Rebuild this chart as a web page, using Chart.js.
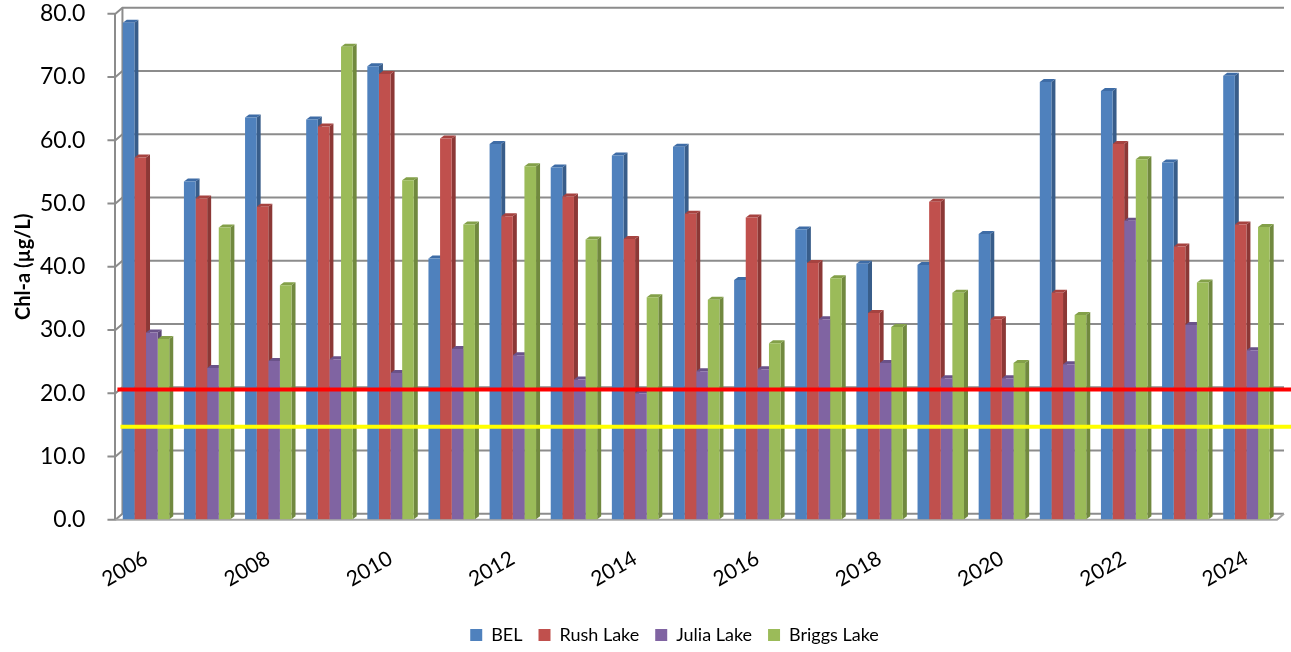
<!DOCTYPE html>
<html>
<head>
<meta charset="utf-8">
<script src="https://cdn.jsdelivr.net/npm/chart.js@4"></script>
<style>
  html, body { margin: 0; padding: 0; background: #fff; }
  #wrap { width: 1291px; height: 652px; }
</style>
</head>
<body>
<div id="wrap"><canvas id="chl"></canvas></div>
<script>
// Datos
const years = ['2006', '2007', '2008', '2009', '2010', '2011', '2012', '2013', '2014', '2015',
               '2016', '2017', '2018', '2019', '2020', '2021', '2022', '2023', '2024'];
const bel    = [78.6, 53.5, 63.6, 63.3, 71.7, 41.3, 59.4, 55.7, 57.6, 59.0, 37.9, 45.9, 40.5, 40.3, 45.2, 69.2, 67.8, 56.5, 70.2];
const rush   = [57.3, 50.8, 49.5, 62.2, 70.5, 60.3, 48.0, 51.1, 44.4, 48.4, 47.8, 40.6, 32.7, 50.3, 31.7, 35.9, 59.4, 43.2, 46.7];
const julia  = [29.6, 24.0, 25.1, 25.4, 23.2, 27.0, 26.0, 22.2, 20.0, 23.5, 23.8, 31.7, 24.8, 22.4, 22.4, 24.6, 47.3, 30.8, 26.8];
const briggs = [28.6, 46.2, 37.1, 74.8, 53.7, 46.7, 55.9, 44.3, 35.2, 34.8, 27.9, 38.2, 30.5, 35.9, 24.8, 32.4, 57.0, 37.5, 46.3];
const yTicks = [0, 10, 20, 30, 40, 50, 60, 70, 80];
// líneas de referencia (roja y amarilla)
const redLine = 20.6;
const yellowLine = 14.7;

const seriesNames = ['BEL', 'Rush Lake', 'Julia Lake', 'Briggs Lake'];
const frontColors = ['#4F81BD', '#C0504D', '#8064A2', '#9BBB59'];
const sideColors  = ['#385D8A', '#8C3836', '#5C4776', '#71893F'];
const topColors   = ['#3E6CA6', '#A64340', '#6A5289', '#83A049'];

const DEPTH_X = 4, DEPTH_Y = 3;     // cara lateral de las barras
const WALL_X = 7, WALL_Y = 6;       // pared del fondo

// Pared del fondo, rejilla y caras 3D de las barras
const fondo3d = {
    id: 'fondo3d',
    afterLayout(chart) {
        // la leyenda del original está algo desplazada a la derecha
        chart.legend.left += 60;
    },
    beforeDatasetsDraw(chart) {
        const ctx = chart.ctx;
        const area = chart.chartArea;
        const y = chart.scales.y;
        ctx.save();
        ctx.strokeStyle = '#8C8C8C';
        ctx.lineWidth = 2;
        yTicks.forEach(v => {
            const py = y.getPixelForValue(v);
            ctx.beginPath();
            ctx.moveTo(area.left - 8, py);
            ctx.lineTo(area.left, py);
            ctx.lineTo(area.left + WALL_X, py - WALL_Y);
            ctx.lineTo(area.right + WALL_X, py - WALL_Y);
            ctx.stroke();
        });
        // borde izquierdo de la pared
        ctx.beginPath();
        ctx.moveTo(area.left + WALL_X, area.top - WALL_Y);
        ctx.lineTo(area.left + WALL_X, area.bottom - WALL_Y);
        ctx.stroke();
        // suelo
        ctx.strokeStyle = '#A6A6A6';
        ctx.beginPath();
        ctx.moveTo(area.left, area.bottom);
        ctx.lineTo(area.right, area.bottom);
        ctx.lineTo(area.right + WALL_X, area.bottom - WALL_Y);
        ctx.stroke();

        // caras laterales y superiores (antes de las frontales)
        chart.data.datasets.forEach((ds, i) => {
            const meta = chart.getDatasetMeta(i);
            meta.data.forEach(bar => {
                const p = bar.getProps(['x', 'y', 'base', 'width'], true);
                const l = p.x - p.width / 2, r = p.x + p.width / 2;
                ctx.fillStyle = sideColors[i];
                ctx.beginPath();
                ctx.moveTo(r, p.y);
                ctx.lineTo(r + DEPTH_X, p.y - DEPTH_Y);
                ctx.lineTo(r + DEPTH_X, p.base - DEPTH_Y);
                ctx.lineTo(r, p.base);
                ctx.closePath();
                ctx.fill();
                ctx.fillStyle = topColors[i];
                ctx.beginPath();
                ctx.moveTo(l, p.y);
                ctx.lineTo(l + DEPTH_X, p.y - DEPTH_Y);
                ctx.lineTo(r + DEPTH_X, p.y - DEPTH_Y);
                ctx.lineTo(r, p.y);
                ctx.closePath();
                ctx.fill();
            });
        });
        ctx.restore();
    },
    afterDatasetsDraw(chart) {
        const ctx = chart.ctx;
        const area = chart.chartArea;
        const y = chart.scales.y;
        ctx.save();
        ctx.lineWidth = 4;
        ctx.strokeStyle = '#FF0000';
        ctx.beginPath();
        ctx.moveTo(area.left + 2, y.getPixelForValue(redLine));
        ctx.lineTo(chart.width, y.getPixelForValue(redLine));
        ctx.stroke();
        ctx.strokeStyle = '#FFFF00';
        ctx.beginPath();
        ctx.moveTo(area.left + 5, y.getPixelForValue(yellowLine));
        ctx.lineTo(chart.width, y.getPixelForValue(yellowLine));
        ctx.stroke();
        ctx.restore();
    }
};

const valores = [bel, rush, julia, briggs];

const ctx = document.getElementById('chl').getContext('2d');
new Chart(ctx, {
    type: 'bar',
    data: {
        labels: years,
        datasets: valores.map((d, i) => ({
            label: seriesNames[i],
            data: d,
            backgroundColor: frontColors[i],
            borderWidth: 0,
            categoryPercentage: 0.76,
            barPercentage: 1.0
        }))
    },
    options: {
        responsive: true,
        maintainAspectRatio: false,
        animation: false,
        layout: { padding: { top: 0, right: 14, left: 12, bottom: -2 } },
        plugins: {
            legend: {
                position: 'bottom',
                labels: {
                    boxWidth: 12,
                    boxHeight: 12,
                    padding: 16,
                    color: '#000',
                    font: { family: 'Lato', size: 18 }
                }
            },
            tooltip: { enabled: false }
        },
        scales: {
            x: {
                grid: { display: false },
                border: { display: false },
                ticks: {
                    autoSkip: false,
                    maxRotation: 30,
                    minRotation: 30,
                    padding: 18,
                    color: '#000',
                    font: { family: 'Lato', size: 21 },
                    callback: (v, i) => (i % 2 === 0 ? years[i] : '')
                }
            },
            y: {
                min: 0,
                max: 80,
                afterBuildTicks: axis => { axis.ticks = yTicks.map(v => ({ value: v })); },
                // marcas dibujadas en el plugin; aquí sólo reservan espacio
                grid: { drawOnChartArea: false, color: 'rgba(0,0,0,0)', tickLength: 30 },
                border: { color: '#8C8C8C', width: 2 },
                ticks: {
                    padding: 0,
                    color: '#000',
                    font: { family: 'Lato', size: 23 },
                    callback: v => v.toFixed(1)
                },
                title: {
                    display: true,
                    text: 'Chl-a (µg/L)',
                    color: '#000',
                    padding: { top: 0, bottom: 4 },
                    font: { family: 'Lato', size: 20, weight: 'bold' }
                }
            }
        }
    },
    plugins: [fondo3d]
});
</script>
</body>
</html>
